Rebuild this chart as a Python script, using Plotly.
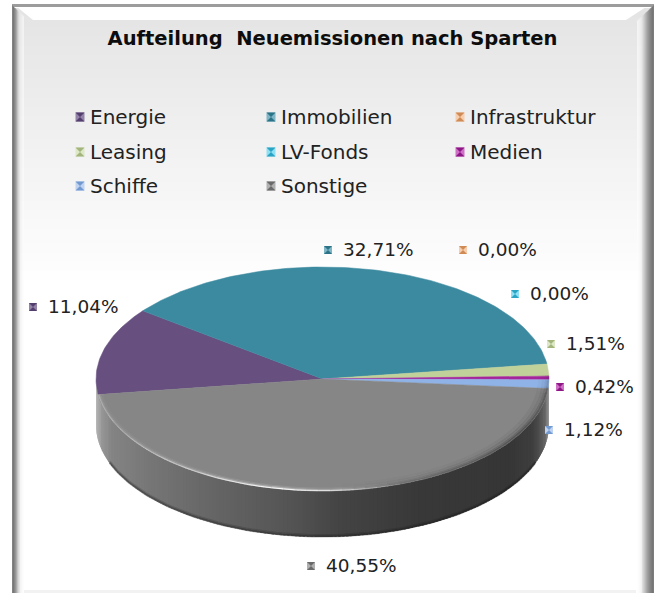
import numpy as np
import plotly.graph_objects as go

# ---- data ----
categories = ["Energie", "Immobilien", "Infrastruktur", "Leasing", "LV-Fonds", "Medien", "Schiffe", "Sonstige"]
values = [11.04, 32.71, 0.00, 1.51, 0.00, 0.42, 1.12, 40.55]
title_text = "Aufteilung  Neuemissionen nach Sparten"

# ---- styles and layout ----
colors = ["#674f80", "#3c8aa0", "#eda46b", "#c0d19a", "#3fbfdf", "#a5249c", "#8fb3e6", "#868686"]
dark = ["#543e6e", "#2b7488", "#d08a55", "#a3b57c", "#2ba3c2", "#8d1685", "#739ad0", "#6a6a6a"]
light = ["#9383a8", "#7fb5c4", "#f7cfae", "#dde8c6", "#8fe0f4", "#cf6fc8", "#c0d4f2", "#b0b0b0"]
legend_xy = [(80, 117), (271, 117), (460, 117), (80, 152), (271, 152), (460, 152), (80, 186), (271, 186)]
label_xy = [(33, 307), (328, 250), (463, 250), (551, 344), (515, 294), (560, 387), (549, 430), (311, 566)]
W, H = 655, 593
CX, CY, RX, RY, DEPTH = 322.5, 379.0, 226.5, 112.0, 46.0
START = 188.0
FONT = "DejaVu Sans"
TXT = "#222222"


def ex(t):
    return CX + RX * np.cos(np.radians(t))


def ey(t):
    return CY - RY * np.sin(np.radians(t))


def lerp_hex(stops, x):
    xs = [s[0] for s in stops]
    g = np.interp(x, xs, [s[1] for s in stops])
    g = int(round(g))
    return f"rgb({g},{g},{g})"


shapes = []
# background gradient
n = 60
top, bot = 8, 290
for i in range(n):
    y0 = top + (bot - top) * i / n
    y1 = top + (bot - top) * (i + 1) / n
    f = i / (n - 1)
    g = int(round(228 + (255 - 228) * f))
    shapes.append(dict(type="rect", x0=13, x1=652, y0=y0, y1=y1 + 1, line_width=0,
                       fillcolor=f"rgb({g},{g},{g})", layer="below"))
# top bevel, mitred
shapes.append(dict(type="path", path="M 17 7 L 646 7 L 626 20 L 33 20 Z", fillcolor="#ffffff",
                   line_width=0, layer="below"))
# top edge
shapes.append(dict(type="rect", x0=12, x1=654, y0=4, y1=7, fillcolor="#9c9c9c", line_width=0, layer="below"))
# left band
left_g = [(12, 130), (13, 120), (14, 135), (15, 150), (16, 170), (17, 195), (18, 215), (19, 228), (20, 236), (21, 242), (22, 248), (23, 252)]
for x, g in left_g:
    y0 = 5 + (x - 12) * 0.95
    alpha = 1 if g < 232 else 0.6
    shapes.append(dict(type="path", path=f"M {x} {y0} L {x+1} {y0+1} L {x+1} 593 L {x} 593 Z",
                       fillcolor=f"rgba({g},{g},{g},{alpha})", line_width=0, layer="below"))
# right band
right_g = [(653, 125), (652, 118), (651, 125), (650, 132), (649, 140), (648, 150), (647, 160), (646, 172), (645, 185),
           (644, 198), (643, 210), (642, 222), (641, 232), (640, 240), (639, 246), (638, 250), (637, 253)]
for x, g in right_g:
    y0 = 5 + (654 - x) * 0.95
    alpha = 1 if g < 232 else 0.6
    shapes.append(dict(type="path", path=f"M {x} {y0} L {x+1} {y0-1} L {x+1} 593 L {x} 593 Z",
                       fillcolor=f"rgba({g},{g},{g},{alpha})", line_width=0, layer="below"))
# bottom faint line
shapes.append(dict(type="rect", x0=24, x1=636, y0=590, y1=593, fillcolor="#f2f2f2", line_width=0, layer="below"))

fig = go.Figure()
skip = dict(hoverinfo="skip", showlegend=False)

# side wall, drawn in thin strips along the lower half of the ellipse
wall = [(96, 172), (102, 150), (112, 132), (150, 118), (210, 102), (290, 84), (340, 68), (420, 56), (510, 54),
        (532, 62), (543, 84), (549, 130)]
for a in np.arange(180.0, 360.0, 1.0):
    ts = np.linspace(a, a + 1.6, 3)
    xs = np.concatenate([ex(ts), ex(ts[::-1])])
    ys = np.concatenate([ey(ts), ey(ts[::-1]) + DEPTH])
    c = lerp_hex(wall, ex(a + 0.5))
    fig.add_trace(go.Scatter(x=xs, y=ys, mode="lines", fill="toself", fillcolor=c,
                             line=dict(color=c, width=0), **skip))

# dark lower edge of the wall
for k, al in [(0.5, 0.35), (2.0, 0.18)]:
    ts = np.linspace(200, 340, 90)
    fig.add_trace(go.Scatter(x=ex(ts), y=ey(ts) + DEPTH - k, mode="lines",
                             line=dict(color=f"rgba(20,20,20,{al})", width=2), **skip))

# top-face slices; angles come from the values, shared over their own sum
total = sum(values)
angle = START
for name, v, col in zip(categories, values, colors):
    sweep = v / total * 360.0
    if sweep > 0:
        ts = np.linspace(angle, angle - sweep, max(3, int(sweep) + 2))
        fig.add_trace(go.Scatter(x=np.concatenate([[CX], ex(ts), [CX]]), y=np.concatenate([[CY], ey(ts), [CY]]),
                                 mode="lines", fill="toself", fillcolor=col, line=dict(color=col, width=0.5),
                                 name=name, hoverinfo="name", showlegend=False))
    angle -= sweep


def rim(scale, t0, t1, fn):
    """Soft rim shading on the lower arc of the top face."""
    for a in np.arange(t0, t1, 3.0):
        ts = np.linspace(a, a + 3, 3)
        al = fn(a + 1.5)
        if al <= 0.01:
            continue
        xs = CX + (RX - scale) * np.cos(np.radians(ts))
        ys = CY - (RY - scale * 0.62) * np.sin(np.radians(ts))
        yield xs, ys, al


def hl(a):
    return float(np.interp(a, [188, 205, 235, 258, 275, 290], [0.3, 0.25, 0.5, 0.95, 0.55, 0.0]))


def sh(a):
    return float(np.interp(a, [275, 300, 330, 352, 360], [0.0, 0.22, 0.42, 0.38, 0.15]))


for inset, w, k in [(0.6, 1.2, 1.0), (2.0, 1.6, 0.35), (4.0, 2.0, 0.12)]:
    for xs, ys, al in rim(inset, 188, 296, hl):
        fig.add_trace(go.Scatter(x=xs, y=ys, mode="lines",
                                 line=dict(color=f"rgba(255,255,255,{al*k:.3f})", width=w), **skip))
for inset, w, k in [(1.0, 2.0, 1.0), (3.0, 2.0, 0.6), (5.5, 3.0, 0.3), (9.0, 4.0, 0.12)]:
    for xs, ys, al in rim(inset, 275, 360, sh):
        fig.add_trace(go.Scatter(x=xs, y=ys, mode="lines",
                                 line=dict(color=f"rgba(30,30,30,{al*k:.3f})", width=w), **skip))


def add_markers(xy, size):
    for (x, y), l, d in zip(xy, light, dark):
        fig.add_trace(go.Scatter(x=[x], y=[y], mode="markers",
                                 marker=dict(symbol="square", size=size, color=l, line_width=0), **skip))
        fig.add_trace(go.Scatter(x=[x], y=[y], mode="markers",
                                 marker=dict(symbol="hourglass", size=size, color=d, line_width=0), **skip))


# legend
add_markers(legend_xy, 9)
for (x, y), name in zip(legend_xy, categories):
    fig.add_trace(go.Scatter(x=[x + 10], y=[y + 1.5], mode="text", text=[name], textposition="middle right",
                             textfont=dict(family=FONT, size=20, color=TXT), **skip))

# data labels
add_markers(label_xy, 8)
for (x, y), v in zip(label_xy, values):
    fig.add_trace(go.Scatter(x=[x + 15], y=[y + 1], mode="text", text=[f"{v:.2f}%".replace(".", ",")],
                             textposition="middle right",
                             textfont=dict(family=FONT, size=18.5, color=TXT), **skip))

# title
fig.add_trace(go.Scatter(x=[332.5], y=[40], mode="text", text=[f"<b>{title_text}</b>"], textposition="middle center",
                         textfont=dict(family=FONT, size=19.5, color="#0d0d0d"), **skip))

fig.update_layout(width=W, height=H, margin=dict(l=0, r=0, t=0, b=0), paper_bgcolor="#ffffff", plot_bgcolor="rgba(0,0,0,0)",
                  xaxis=dict(range=[0, W], visible=False, fixedrange=True),
                  yaxis=dict(range=[H, 0], visible=False, fixedrange=True),
                  shapes=shapes, showlegend=False)
fig.write_html("out.html", config=dict(displayModeBar=False),
               post_script="document.body.style.margin='0';document.documentElement.style.overflow='hidden';")
